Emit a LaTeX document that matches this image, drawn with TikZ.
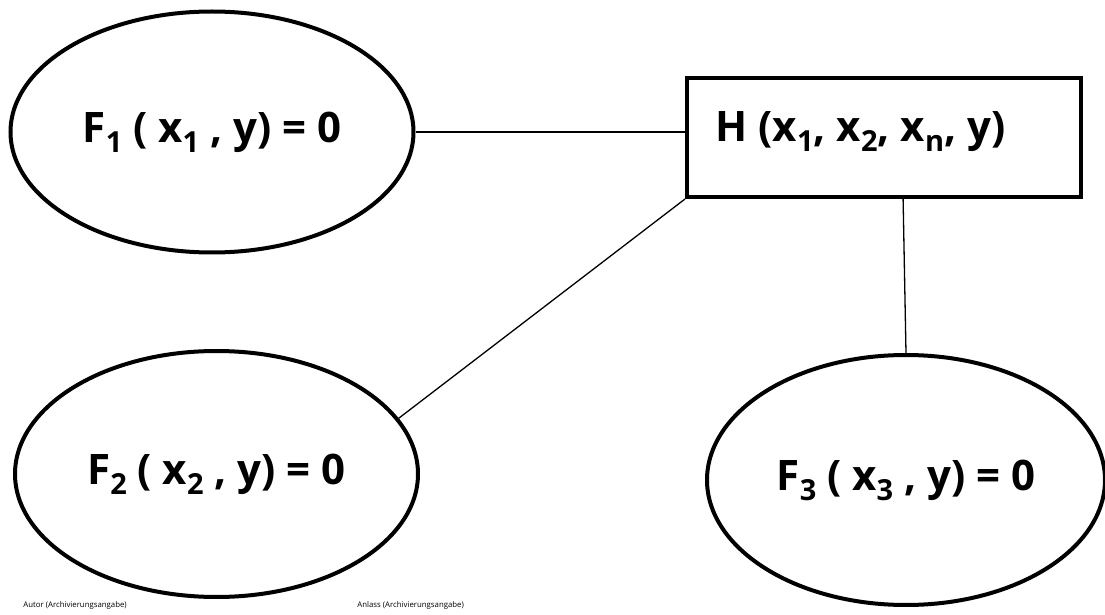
\documentclass[tikz,border=0pt]{standalone}
\usepackage{fontspec}
\setmainfont{Open Sans}
\usetikzlibrary{shapes.geometric, calc}

\newcommand{\lowsub}[1]{\raisebox{-5pt}{\fontsize{14.5}{15}\selectfont #1}}

\begin{document}
\begin{tikzpicture}[x=0.5pt, y=-0.5pt,
		gleichung/.style={draw, ellipse, line width=2pt, inner sep=0pt, font=\fontsize{21}{25}\selectfont\bfseries},
		kasten/.style={draw, rectangle, line width=2pt, inner sep=0pt},
		kante/.style={line width=0.65pt},
		fuss/.style={anchor=west, inner sep=0pt, font=\fontsize{3.9}{4.5}\selectfont}]
	\useasboundingbox (0,0) rectangle (1105,615);

	% Nodes
	\node[gleichung, minimum width=201.5pt, minimum height=120.5pt] (f1) at (212,132) {F\lowsub{1} ( x\lowsub{1} , y) = 0};
	\node[gleichung, minimum width=201.5pt, minimum height=123pt] (f2) at (216.5,474) {F\lowsub{2} ( x\lowsub{2} , y) = 0};
	\node[gleichung, minimum width=199pt, minimum height=125pt] (f3) at (906,480) {F\lowsub{3} ( x\lowsub{3} , y) = 0};
	\node[kasten, minimum width=197pt, minimum height=59.5pt] (h) at (884,137.5) {};
	\node[anchor=base, inner sep=0pt, font=\fontsize{21}{25}\selectfont\bfseries] (hlabel) at (860.5,142) {H (x\lowsub{1}, x\lowsub{2}, x\lowsub{n}, y)};

	% Footer
	\node[fuss] (autor) at (23,605) {Autor (Archivierungsangabe)};
	\node[fuss] (anlass) at (357,605) {Anlass (Archivierungsangabe)};

	% Connecting lines
	\draw[kante] (f1.east) -- (f1.east -| h.west);
	\draw[kante] (f2.17) -- (h.south west);
	\draw[kante] ($(h.south west)!0.548!(h.south east)$) -- (f3.north);
\end{tikzpicture}
\end{document}
